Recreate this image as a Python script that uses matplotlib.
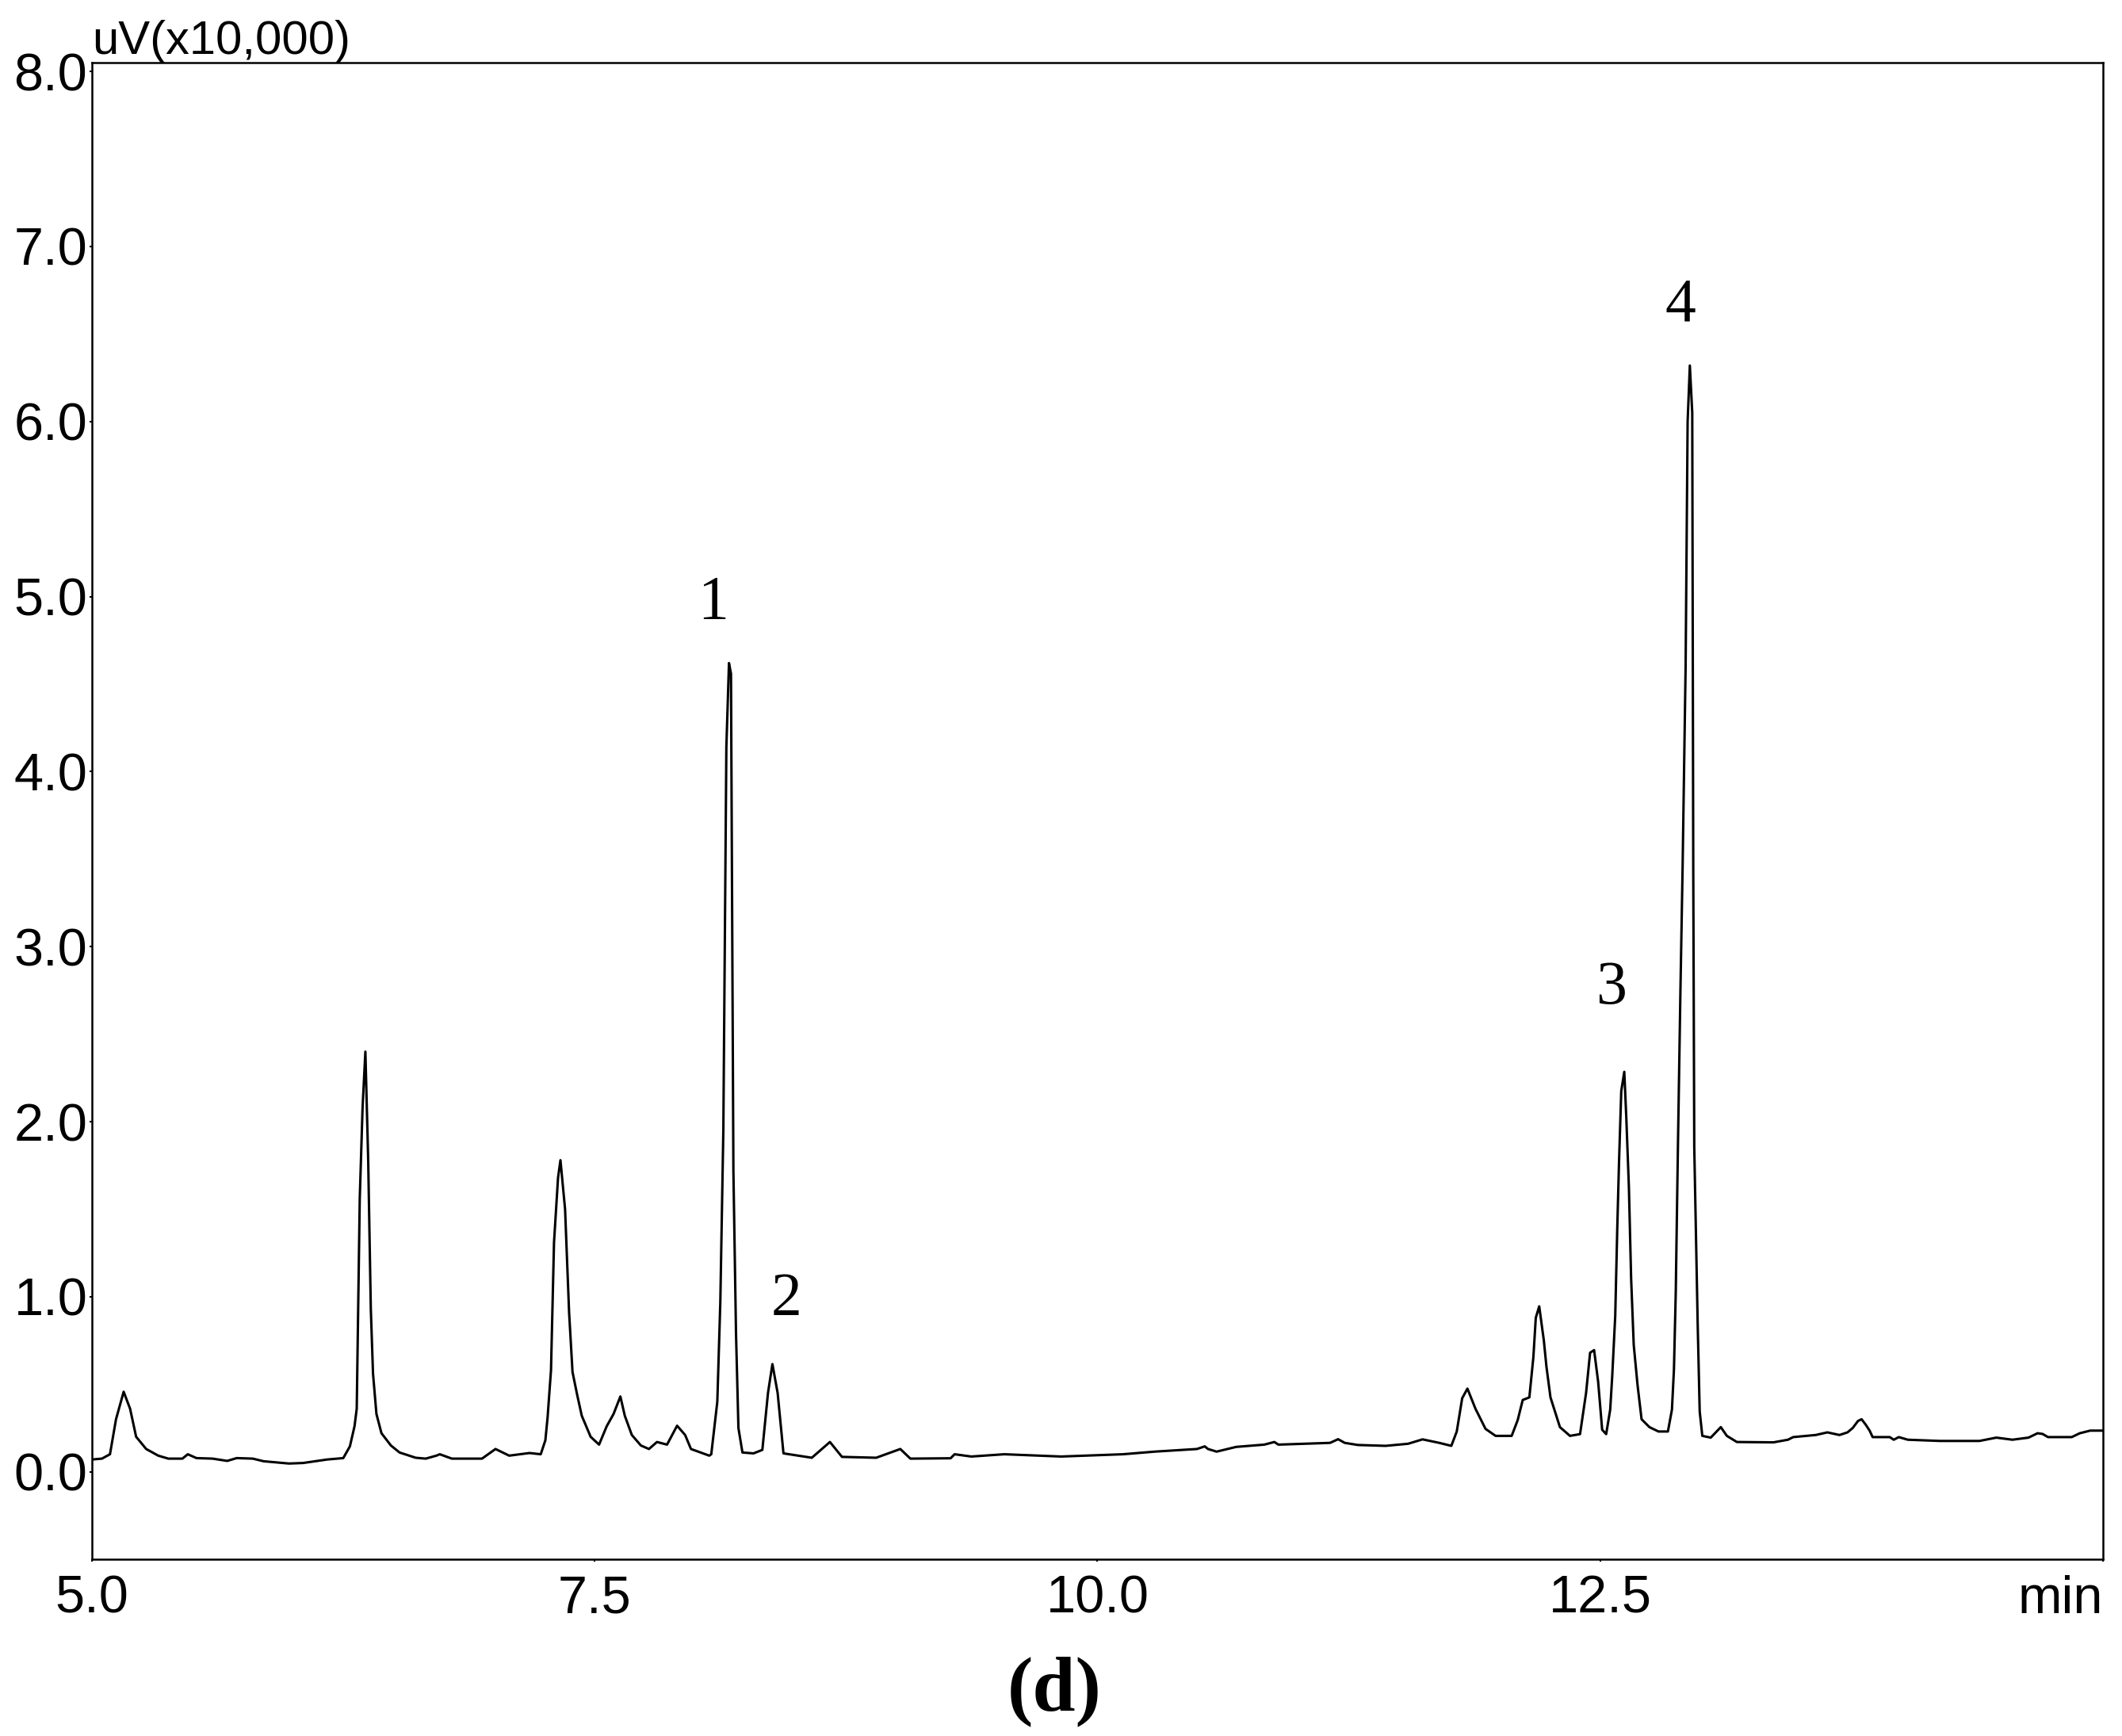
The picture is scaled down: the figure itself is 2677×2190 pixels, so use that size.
import matplotlib
matplotlib.use('Agg')
import matplotlib.pyplot as plt
import numpy as np

plt.rcParams['font.family'] = ['Liberation Sans', 'DejaVu Sans']

# chromatogram trace (time in min, signal in uV x10,000)
retention_time = [
    5.00, 5.05, 5.09, 5.12, 5.158, 5.19, 5.22, 5.27, 5.33, 5.38, 5.45, 5.477, 5.52, 5.60,
    5.673, 5.72, 5.80, 5.854, 5.98, 6.05, 6.17, 6.25, 6.283, 6.306, 6.317, 6.332, 6.346,
    6.36, 6.374, 6.387, 6.398, 6.415, 6.44, 6.487, 6.53, 6.61, 6.66, 6.713, 6.73, 6.79,
    6.94, 7.007, 7.075, 7.176, 7.232, 7.255, 7.266, 7.283, 7.298, 7.318, 7.33, 7.353,
    7.373, 7.39, 7.413, 7.436, 7.48, 7.522, 7.56, 7.594, 7.628, 7.65, 7.685, 7.73, 7.77,
    7.81, 7.86, 7.91, 7.95, 7.979, 8.07,
    8.08, 8.11, 8.125, 8.14, 8.155, 8.168, 8.178, 8.19, 8.203, 8.215, 8.235,
    8.29, 8.334, 8.362, 8.384, 8.41, 8.439, 8.58, 8.67, 8.73, 8.90, 9.02, 9.07, 9.27,
    9.29, 9.373, 9.537, 9.82, 10.127, 10.285, 10.495, 10.534, 10.55, 10.593, 10.69,
    10.83, 10.88, 10.90, 11.157, 11.197, 11.23, 11.295, 11.433, 11.545, 11.617, 11.70,
    11.76, 11.787, 11.814, 11.84, 11.88, 11.93, 11.98, 12.06, 12.09, 12.115, 12.148,
    12.168, 12.18, 12.197, 12.22, 12.233, 12.253, 12.30, 12.35, 12.40, 12.43, 12.45,
    12.47, 12.49, 12.51, 12.53, 12.55, 12.56, 12.575, 12.585, 12.594, 12.605, 12.62,
    12.63, 12.643, 12.654, 12.667, 12.686, 12.706, 12.745, 12.79, 12.837, 12.857,
    12.867, 12.876, 12.887, 12.899, 12.91, 12.925, 12.935, 12.946, 12.958, 12.963,
    12.968, 12.985, 12.995, 13.008, 13.05, 13.10, 13.13, 13.18, 13.362, 13.434, 13.46,
    13.572, 13.63, 13.69, 13.73, 13.756, 13.782, 13.80, 13.82, 13.84, 13.855, 13.94,
    13.96, 13.985, 14.03, 14.19, 14.386, 14.47, 14.55, 14.63, 14.675, 14.70, 14.727,
    14.845, 14.885, 14.937, 15.00,
]
signal = [
    0.070, 0.075, 0.100, 0.300, 0.457, 0.360, 0.200, 0.130, 0.092, 0.075, 0.075, 0.100, 0.078, 0.075,
    0.062, 0.078, 0.075, 0.060, 0.047, 0.050, 0.070, 0.078, 0.145, 0.260, 0.360, 1.560, 2.080,
    2.400, 1.780, 0.930, 0.560, 0.330, 0.220, 0.150, 0.110, 0.080, 0.075, 0.092, 0.100, 0.075,
    0.075, 0.130, 0.092, 0.107, 0.100, 0.180, 0.310, 0.580, 1.310, 1.680, 1.780, 1.500,
    0.910, 0.570, 0.440, 0.320, 0.200, 0.155, 0.260, 0.330, 0.430, 0.320, 0.210, 0.150, 0.130,
    0.170, 0.155, 0.263, 0.210, 0.130, 0.092,
    0.100, 0.400, 0.970, 1.950, 4.140, 4.620, 4.560, 1.720, 0.790, 0.250, 0.110,
    0.105, 0.125, 0.450, 0.615, 0.450, 0.105, 0.080, 0.170, 0.085, 0.080, 0.130, 0.075, 0.077,
    0.100, 0.087, 0.100, 0.087, 0.100, 0.115, 0.130, 0.145, 0.130, 0.115, 0.142,
    0.155, 0.170, 0.155, 0.165, 0.186, 0.165, 0.153, 0.148, 0.160, 0.185, 0.165,
    0.148, 0.230, 0.420, 0.475, 0.360, 0.245, 0.205, 0.205, 0.295, 0.410, 0.425,
    0.655, 0.880, 0.945, 0.750, 0.600, 0.425, 0.255, 0.205, 0.215, 0.450, 0.680,
    0.695, 0.515, 0.240, 0.215, 0.355, 0.545, 0.890, 1.385, 1.775, 2.175, 2.285,
    2.025, 1.625, 1.105, 0.725, 0.495, 0.300, 0.255, 0.230, 0.230, 0.355,
    0.585, 1.025, 1.875, 2.735, 3.450, 4.600, 6.000, 6.320, 6.050, 3.450,
    1.855, 0.845, 0.345, 0.205, 0.195, 0.255, 0.205, 0.170, 0.168, 0.183, 0.198,
    0.210, 0.225, 0.210, 0.225, 0.250, 0.290, 0.300, 0.270, 0.235, 0.198, 0.198,
    0.183, 0.198, 0.183, 0.176, 0.176, 0.195, 0.183, 0.195, 0.220, 0.216, 0.198,
    0.198, 0.220, 0.235, 0.235,
]

peak_names = ['1', '2', '3', '4']
peak_label_x = [8.09, 8.455, 12.555, 12.90]
peak_label_y = [4.96, 0.98, 2.76, 6.66]

x_ticks = [5.0, 7.5, 10.0, 12.5, 15.0]
x_tick_labels = ['5.0', '7.5', '10.0', '12.5', 'min']
y_ticks = [0, 1, 2, 3, 4, 5, 6, 7, 8]

fig = plt.figure(figsize=(26.77, 21.90), dpi=100)
ax = fig.add_axes([0.0433, 0.1018, 0.9477, 0.8621])

ax.plot(retention_time, signal, color='black', lw=2.2)

ax.set_xlim(5, 15)
ax.set_ylim(-0.5, 8.05)
ax.set_xticks(x_ticks)
ax.set_xticklabels(x_tick_labels)
ax.get_xticklabels()[-1].set_ha('right')
ax.set_yticks(y_ticks)
ax.set_yticklabels(['%.1f' % y for y in y_ticks])
ax.tick_params(axis='both', direction='out', length=2, width=1.5, labelsize=48, colors='black')
ax.tick_params(axis='y', pad=2)
ax.tick_params(axis='x', pad=12)
for s in ax.spines.values():
    s.set_linewidth(1.8)

# units label above the y axis
ax.annotate('uV(x10,000)', xy=(0, 1), xycoords='axes fraction', xytext=(0, 8),
            textcoords='offset points', ha='left', va='baseline', fontsize=43)

# peak numbers
for name, x, y in zip(peak_names, peak_label_x, peak_label_y):
    ax.text(x, y, name, ha='center', va='center', fontsize=56, family='Liberation Serif')

fig.text(0.497, 0.015, '(d)', ha='center', va='baseline', fontsize=70,
         family='Liberation Serif', fontweight='bold')

fig.savefig('out.png', dpi=100)
